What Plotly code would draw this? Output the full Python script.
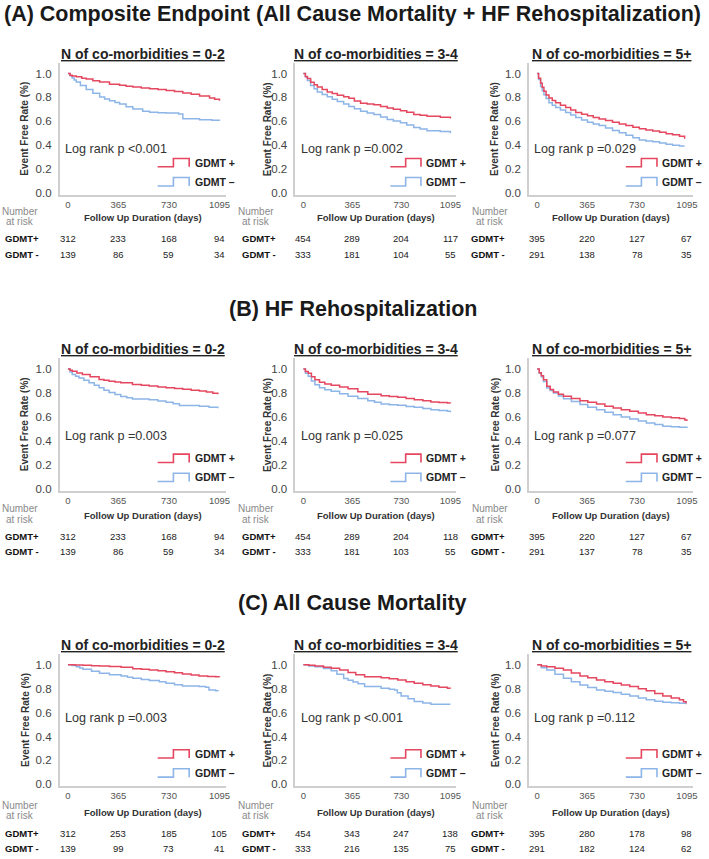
import plotly.graph_objects as go

W, H = 709, 859
RED = "#E5475F"
BLUE = "#8DB5E8"
AXC = "#CFCFCF"
FONT = "Liberation Sans, Arial, Helvetica, sans-serif"

# ---------------- data ----------------
section_titles = ["(A) Composite Endpoint (All Cause Mortality + HF Rehospitalization)",
                  "(B) HF Rehospitalization",
                  "(C) All Cause Mortality"]
panel_titles = ["N of co-morbidities = 0-2", "N of co-morbidities = 3-4", "N of co-morbidities = 5+"]
risk_days = [0, 365, 730, 1095]
y_ticks = [0.0, 0.2, 0.4, 0.6, 0.8, 1.0]
y_ticktext = ["0.0", "0.2", "0.4", "0.6", "0.8", "1.0"]
group_labels = ["GDMT+", "GDMT -"]
legend_labels = ["GDMT +", "GDMT \u2013"]

pvals_A = ["<0.001", "=0.002", "=0.029"]
pvals_B = ["=0.003", "=0.025", "=0.077"]
pvals_C = ["=0.003", "<0.001", "=0.112"]

# numbers at risk [GDMT+, GDMT-]
risk_A1 = [[312, 233, 168, 94], [139, 86, 59, 34]]
risk_A2 = [[454, 289, 204, 117], [333, 181, 104, 55]]
risk_A3 = [[395, 220, 127, 67], [291, 138, 78, 35]]
risk_B1 = [[312, 233, 168, 94], [139, 86, 59, 34]]
risk_B2 = [[454, 289, 204, 118], [333, 181, 103, 55]]
risk_B3 = [[395, 220, 127, 67], [291, 137, 78, 35]]
risk_C1 = [[312, 253, 185, 105], [139, 99, 73, 41]]
risk_C2 = [[454, 343, 247, 138], [333, 216, 135, 75]]
risk_C3 = [[395, 280, 178, 98], [291, 182, 124, 62]]

# Kaplan-Meier curves (days, event free rate)
a1_pos_t = [0, 15, 30, 60, 100, 132, 180, 229, 300, 373, 420, 469, 530, 590, 650, 710, 770, 830, 890, 951, 1023, 1060, 1095]
a1_pos_s = [1.0, 0.985, 0.978, 0.972, 0.96, 0.954, 0.94, 0.929, 0.91, 0.902, 0.893, 0.886, 0.879, 0.872, 0.865, 0.858, 0.85, 0.837, 0.826, 0.812, 0.795, 0.785, 0.772]
a1_neg_t = [0, 15, 30, 45, 60, 90, 132, 180, 229, 265, 300, 340, 373, 420, 469, 540, 590, 650, 710, 800, 830, 951, 1040, 1095]
a1_neg_s = [1.0, 0.98, 0.962, 0.945, 0.929, 0.9, 0.866, 0.835, 0.804, 0.787, 0.771, 0.757, 0.744, 0.722, 0.703, 0.684, 0.676, 0.672, 0.67, 0.662, 0.621, 0.613, 0.608, 0.605]

a2_pos_t = [0, 15, 30, 54, 80, 104, 140, 178, 215, 253, 300, 339, 380, 426, 475, 525, 575, 624, 670, 723, 770, 822, 870, 921, 1020, 1095]
a2_pos_s = [1.0, 0.975, 0.959, 0.927, 0.905, 0.886, 0.866, 0.846, 0.832, 0.819, 0.805, 0.792, 0.77, 0.751, 0.745, 0.738, 0.724, 0.711, 0.7, 0.689, 0.675, 0.657, 0.65, 0.643, 0.635, 0.624]
a2_neg_t = [0, 15, 30, 54, 80, 104, 140, 178, 215, 253, 300, 339, 380, 426, 475, 525, 575, 624, 670, 723, 770, 822, 870, 921, 1020, 1095]
a2_neg_s = [1.0, 0.97, 0.941, 0.9, 0.872, 0.846, 0.825, 0.805, 0.785, 0.765, 0.745, 0.724, 0.705, 0.684, 0.67, 0.657, 0.636, 0.616, 0.603, 0.589, 0.57, 0.549, 0.535, 0.522, 0.514, 0.5]

a3_pos_t = [0, 10, 25, 37, 49, 65, 86, 110, 135, 170, 208, 245, 282, 325, 368, 410, 453, 500, 551, 600, 649, 700, 747, 795, 845, 895, 943, 990, 1041, 1078]
a3_pos_s = [1.0, 0.96, 0.918, 0.885, 0.851, 0.82, 0.796, 0.775, 0.755, 0.735, 0.715, 0.695, 0.674, 0.66, 0.647, 0.633, 0.62, 0.606, 0.592, 0.578, 0.565, 0.551, 0.538, 0.528, 0.519, 0.508, 0.497, 0.487, 0.476, 0.454]
a3_neg_t = [0, 10, 25, 37, 49, 65, 86, 110, 135, 170, 208, 245, 282, 325, 368, 410, 453, 500, 551, 600, 649, 700, 747, 795, 845, 895, 943, 990, 1041, 1078]
a3_neg_s = [1.0, 0.95, 0.891, 0.855, 0.823, 0.79, 0.755, 0.735, 0.715, 0.695, 0.674, 0.653, 0.633, 0.612, 0.592, 0.578, 0.565, 0.545, 0.524, 0.504, 0.484, 0.463, 0.443, 0.436, 0.429, 0.418, 0.408, 0.401, 0.394, 0.394]

b1_pos_t = [0, 15, 31, 65, 104, 160, 225, 260, 297, 340, 382, 466, 530, 587, 650, 708, 770, 829, 890, 950, 1000, 1047, 1083]
b1_pos_s = [1.0, 0.99, 0.981, 0.968, 0.954, 0.935, 0.913, 0.906, 0.899, 0.892, 0.886, 0.872, 0.865, 0.858, 0.851, 0.845, 0.838, 0.831, 0.824, 0.817, 0.808, 0.798, 0.79]
b1_neg_t = [0, 15, 31, 55, 80, 115, 152, 190, 225, 260, 297, 340, 382, 425, 466, 587, 650, 708, 760, 805, 950, 1020, 1083]
b1_neg_s = [1.0, 0.975, 0.954, 0.94, 0.926, 0.906, 0.886, 0.865, 0.845, 0.824, 0.804, 0.787, 0.771, 0.76, 0.749, 0.744, 0.733, 0.722, 0.71, 0.695, 0.689, 0.68, 0.673]

b2_pos_t = [0, 15, 36, 60, 86, 120, 160, 207, 270, 333, 406, 480, 579, 640, 703, 765, 826, 890, 950, 1010, 1073, 1095]
b2_pos_s = [1.0, 0.98, 0.965, 0.935, 0.91, 0.89, 0.876, 0.864, 0.85, 0.835, 0.81, 0.79, 0.778, 0.771, 0.764, 0.754, 0.744, 0.735, 0.725, 0.72, 0.717, 0.714]
b2_neg_t = [0, 15, 36, 60, 86, 120, 160, 207, 270, 333, 406, 480, 530, 579, 640, 703, 765, 826, 890, 950, 1010, 1073, 1095]
b2_neg_s = [1.0, 0.965, 0.94, 0.9, 0.87, 0.845, 0.828, 0.814, 0.793, 0.772, 0.755, 0.736, 0.722, 0.708, 0.702, 0.697, 0.688, 0.68, 0.67, 0.661, 0.654, 0.647, 0.64]

b3_pos_t = [0, 15, 30, 46, 70, 95, 119, 155, 192, 250, 313, 370, 434, 495, 556, 615, 677, 740, 798, 860, 919, 980, 1040, 1080, 1095]
b3_pos_s = [1.0, 0.97, 0.945, 0.91, 0.856, 0.83, 0.808, 0.79, 0.772, 0.755, 0.736, 0.722, 0.708, 0.69, 0.675, 0.661, 0.647, 0.633, 0.619, 0.61, 0.6, 0.593, 0.586, 0.575, 0.565]
b3_neg_t = [0, 15, 30, 46, 70, 95, 119, 155, 192, 250, 313, 370, 434, 495, 556, 615, 677, 740, 798, 860, 919, 980, 1040, 1095]
b3_neg_s = [1.0, 0.965, 0.935, 0.897, 0.842, 0.82, 0.8, 0.776, 0.753, 0.728, 0.703, 0.682, 0.661, 0.64, 0.619, 0.6, 0.583, 0.566, 0.55, 0.536, 0.522, 0.518, 0.514, 0.508]

c1_pos_t = [0, 50, 108, 170, 228, 300, 384, 468, 530, 588, 650, 708, 770, 827, 890, 947, 1010, 1067, 1095]
c1_pos_s = [1.0, 0.998, 0.995, 0.992, 0.989, 0.984, 0.978, 0.967, 0.962, 0.956, 0.949, 0.942, 0.932, 0.922, 0.914, 0.906, 0.902, 0.9, 0.899]
c1_neg_t = [0, 30, 60, 85, 108, 170, 228, 300, 384, 430, 468, 530, 588, 660, 708, 770, 827, 947, 995, 1019, 1067, 1085]
c1_neg_s = [1.0, 0.993, 0.983, 0.972, 0.961, 0.945, 0.928, 0.917, 0.906, 0.896, 0.886, 0.876, 0.867, 0.858, 0.844, 0.833, 0.822, 0.817, 0.811, 0.789, 0.783, 0.78]

c2_pos_t = [0, 40, 86, 150, 207, 270, 333, 390, 456, 579, 640, 703, 765, 826, 890, 950, 1010, 1073, 1095]
c2_pos_s = [1.0, 0.995, 0.989, 0.978, 0.97, 0.955, 0.935, 0.915, 0.9, 0.892, 0.882, 0.872, 0.858, 0.845, 0.833, 0.822, 0.812, 0.803, 0.801]
c2_neg_t = [0, 40, 86, 150, 207, 250, 300, 333, 370, 407, 456, 579, 640, 679, 700, 728, 780, 826, 890, 950, 1073, 1095]
c2_neg_s = [1.0, 0.99, 0.983, 0.968, 0.95, 0.92, 0.885, 0.87, 0.855, 0.84, 0.817, 0.803, 0.795, 0.789, 0.765, 0.739, 0.715, 0.692, 0.68, 0.669, 0.669, 0.669]

c3_pos_t = [0, 30, 70, 130, 192, 250, 313, 370, 434, 495, 556, 615, 677, 740, 798, 860, 919, 980, 1040, 1070, 1089]
c3_pos_s = [1.0, 0.99, 0.983, 0.97, 0.956, 0.93, 0.906, 0.89, 0.872, 0.858, 0.845, 0.831, 0.817, 0.8, 0.783, 0.76, 0.739, 0.722, 0.706, 0.69, 0.678]
c3_neg_t = [0, 30, 70, 130, 192, 250, 313, 370, 434, 495, 556, 615, 677, 740, 798, 860, 919, 980, 1040, 1089]
c3_neg_s = [1.0, 0.975, 0.956, 0.92, 0.886, 0.857, 0.831, 0.81, 0.789, 0.778, 0.767, 0.753, 0.739, 0.722, 0.706, 0.695, 0.686, 0.682, 0.678, 0.669]

curves = [
    [((a1_pos_t, a1_pos_s), (a1_neg_t, a1_neg_s)),
     ((a2_pos_t, a2_pos_s), (a2_neg_t, a2_neg_s)),
     ((a3_pos_t, a3_pos_s), (a3_neg_t, a3_neg_s))],
    [((b1_pos_t, b1_pos_s), (b1_neg_t, b1_neg_s)),
     ((b2_pos_t, b2_pos_s), (b2_neg_t, b2_neg_s)),
     ((b3_pos_t, b3_pos_s), (b3_neg_t, b3_neg_s))],
    [((c1_pos_t, c1_pos_s), (c1_neg_t, c1_neg_s)),
     ((c2_pos_t, c2_pos_s), (c2_neg_t, c2_neg_s)),
     ((c3_pos_t, c3_pos_s), (c3_neg_t, c3_neg_s))],
]
risks = [[risk_A1, risk_A2, risk_A3], [risk_B1, risk_B2, risk_B3], [risk_C1, risk_C2, risk_C3]]
pvals = [pvals_A, pvals_B, pvals_C]

# ---------------- layout geometry (pixels) ----------------
col_px = [(60, 227), (297, 459), (532, 697)]
row_off = [0, 297, 594]
tab_off = [0, 299, 597]
title_y = [14, 310, 606]
logrank_y = [149.6, 141.3, 127.7]
ytitle_x = [25, 269, 498]
number_x = [20, 257, 493]
group_x = [22, 260, 491]
XR = [-60, 1140]
YR = [-0.015, 1.09]


def fx(p):
    return p / W


def fy(p):
    return 1 - p / H


fig = go.Figure()
axes = {}
ann = []
shapes = []


def add_text(text, x, y, size, color="#222", xanchor="center", yanchor="middle", xref="paper", angle=0):
    ann.append(dict(text=text, x=x, y=y, xref=xref, yref="paper", showarrow=False,
                    xanchor=xanchor, yanchor=yanchor, textangle=angle,
                    font=dict(size=size, color=color, family=FONT)))


for r in range(3):
    off = row_off[r]
    toff = tab_off[r]
    top, bot = 63 + off, 195.8 + off
    add_text("<b>%s</b>" % section_titles[r], 0.5, fy(title_y[r]), 21.5, "#1a1a1a")
    for c in range(3):
        k = r * 3 + c + 1
        sx = "" if k == 1 else str(k)
        xid, yid = "x" + sx, "y" + sx
        x0, x1 = col_px[c]
        axes["xaxis" + sx] = dict(domain=[fx(x0), fx(x1)], range=XR, anchor=yid,
                                  tickvals=risk_days, ticktext=[str(d) for d in risk_days],
                                  showgrid=False, zeroline=False, showline=True, linecolor=AXC,
                                  linewidth=1.5, ticks="", fixedrange=True,
                                  tickfont=dict(size=9.5, color="#555", family=FONT))
        axes["yaxis" + sx] = dict(domain=[fy(bot), fy(top)], range=YR, anchor=xid,
                                  tickvals=y_ticks, ticktext=y_ticktext,
                                  showgrid=False, zeroline=False, showline=True, linecolor=AXC,
                                  linewidth=1.5, ticks="", fixedrange=True, ticklabelstandoff=4,
                                  tickfont=dict(size=11.5, color="#444", family=FONT))
        (tp, sp), (tn, sn) = curves[r][c]
        fig.add_trace(go.Scatter(x=tn, y=sn, mode="lines", xaxis=xid, yaxis=yid,
                                 line=dict(color=BLUE, width=1.5, shape="hv"),
                                 showlegend=False, hoverinfo="skip"))
        fig.add_trace(go.Scatter(x=tp, y=sp, mode="lines", xaxis=xid, yaxis=yid,
                                 line=dict(color=RED, width=1.5, shape="hv"),
                                 showlegend=False, hoverinfo="skip"))
        cx = (x0 + x1) / 2
        wpx = x1 - x0
        # panel title
        add_text("<b><u>%s</u></b>" % panel_titles[c], fx(cx), fy(54 + off), 14, "#222")
        # y title
        add_text("<b>Event Free Rate (%)</b>", fx(ytitle_x[c]), fy((top + bot) / 2), 10, "#333", angle=-90)
        # log rank
        add_text("Log rank p %s" % pvals[r][c], fx(x0 + 3.5), fy(logrank_y[r] + off), 12.6, "#333",
                 xanchor="left")
        # legend
        for g, (col, lo, hi, ty) in enumerate([(RED, 0.22, 0.29, 0.255), (BLUE, 0.06, 0.13, 0.095)]):
            ylo = 194 + off - 120 * lo
            yhi = 194 + off - 120 * hi
            xa_, xb_, xc_ = x0 + 0.59 * wpx, x0 + 0.685 * wpx, x0 + 0.78 * wpx
            path = "M %f,%f L %f,%f L %f,%f L %f,%f L %f,%f" % (
                fx(xa_), fy(ylo), fx(xb_), fy(ylo), fx(xb_), fy(yhi), fx(xc_), fy(yhi), fx(xc_), fy(ylo))
            shapes.append(dict(type="path", path=path, xref="paper", yref="paper",
                               line=dict(color=col, width=1.6)))
            add_text("<b>%s</b>" % legend_labels[g], fx(x0 + 0.80 * wpx), fy(194 + off - 120 * ty),
                     10.5, "#222", xanchor="left")
        # x title
        add_text("<b>Follow Up Duration (days)</b>", fx(cx), fy(219 + toff), 9.5, "#333")
        # risk table
        add_text("Number", fx(number_x[c]), fy(212 + toff), 10, "#8a8a8a")
        add_text("at risk", fx(number_x[c]), fy(222.5 + toff), 10, "#8a8a8a")
        for g in range(2):
            yrow = 240 + toff + 15.5 * g
            add_text("<b>%s</b>" % group_labels[g], fx(group_x[c]), fy(yrow), 9.5, "#111")
            for d, n in zip(risk_days, risks[r][c][g]):
                add_text(str(n), d, fy(yrow), 9.5, "#222", xref=xid)

fig.update_layout(width=W, height=H, margin=dict(l=0, r=0, t=0, b=0),
                  paper_bgcolor="white", plot_bgcolor="white",
                  font=dict(family=FONT), annotations=ann, shapes=shapes, **axes)
fig.write_html("out.html", config={"displayModeBar": False},
               post_script="document.body.style.margin='0';document.body.style.overflow='hidden';")
